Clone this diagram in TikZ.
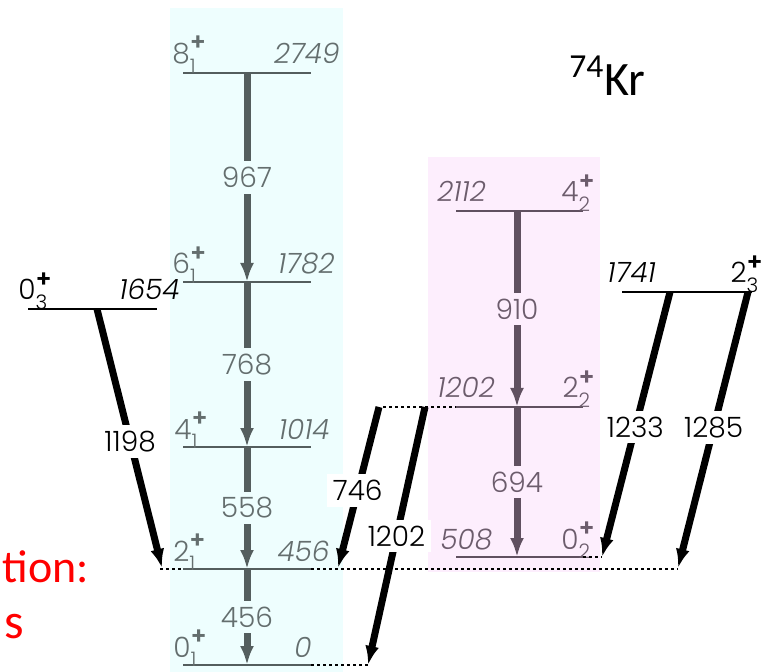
\documentclass[tikz,border=0pt]{standalone}
\usepackage{fontspec}
\setmainfont{Poppins}[UprightFont={* Light},ItalicFont={* Light Italic},BoldFont={* SemiBold}]
\newfontfamily\calibri{Carlito}
\usetikzlibrary{arrows.meta}
\definecolor{cyanbg}{RGB}{238,254,254}
\definecolor{pinkbg}{RGB}{253,238,253}
\definecolor{yrastgray}{RGB}{84,94,94}
\definecolor{yrasttext}{RGB}{100,110,110}
\definecolor{bandpurple}{RGB}{96,80,96}
\definecolor{bandtext}{RGB}{108,92,108}
\newcommand{\spinlab}[2]{#1\rlap{\raisebox{0.85ex}{\fontsize{12}{12}\selectfont\bfseries +}}\rlap{\raisebox{-0.6ex}{\fontsize{10}{11}\selectfont #2}}\kern7.5pt}

\begin{document}
\begin{tikzpicture}[x=0.5pt,y=-0.5pt]
  \tikzstyle{lvl}=[inner sep=0pt,font=\fontsize{14}{16}\selectfont]
  \tikzstyle{en}=[inner sep=0pt,font=\fontsize{14}{16}\selectfont\itshape]
  \tikzstyle{line}=[line width=1pt]
  \tikzstyle{tran}=[line width=3.5pt,-{Latex[length=9.5pt,width=7pt]}]
  \tikzstyle{gam}=[inner sep=3pt,font=\fontsize{14}{16}\selectfont]
  \tikzstyle{dots}=[dash pattern=on 1.6pt off 1.4pt,line width=1pt]
  \useasboundingbox (0,0) rectangle (763,672);
  % bands
  \fill[cyanbg] (170,8) rectangle (343,672);
  \fill[pinkbg] (428,157) rectangle (600,572);
  % ground band levels
  \coordinate (g8l) at (183,73);  \coordinate (g8r) at (311,73);
  \coordinate (g6l) at (183,282); \coordinate (g6r) at (311,282);
  \coordinate (g4l) at (183,447); \coordinate (g4r) at (311,447);
  \coordinate (g2l) at (183,569); \coordinate (g2r) at (311,569);
  \coordinate (g0l) at (183,665); \coordinate (g0r) at (311,665);
  \draw[line,yrastgray] (g8l) -- (g8r);
  \draw[line,yrastgray] (g6l) -- (g6r);
  \draw[line,yrastgray] (g4l) -- (g4r);
  \draw[line,yrastgray] (g2l) -- (g2r);
  \draw[line,yrastgray] (g0l) -- (g0r);
  \node[lvl,text=yrasttext,anchor=base west] (g8spin) at (172,64) {\spinlab{8}{1}};
  \node[lvl,text=yrasttext,anchor=base west] (g6spin) at (172,274) {\spinlab{6}{1}};
  \node[lvl,text=yrasttext,anchor=base west] (g4spin) at (174,439) {\spinlab{4}{1}};
  \node[lvl,text=yrasttext,anchor=base west] (g2spin) at (173,561) {\spinlab{2}{1}};
  \node[lvl,text=yrasttext,anchor=base west] (g0spin) at (173,657) {\spinlab{0}{1}};
  \node[en,text=yrasttext,anchor=base east] (g8en) at (340,64) {2749};
  \node[en,text=yrasttext,anchor=base east] (g6en) at (335,274) {1782};
  \node[en,text=yrasttext,anchor=base east] (g4en) at (330,439) {1014};
  \node[en,text=yrasttext,anchor=base east] (g2en) at (330,561) {456};
  \node[en,text=yrasttext,anchor=base east] (g0en) at (312,657) {0};
  % second band levels
  \coordinate (b4l) at (456,211); \coordinate (b4r) at (583,211);
  \coordinate (b2l) at (456,407); \coordinate (b2r) at (583,407);
  \coordinate (b0l) at (456,557); \coordinate (b0r) at (583,557);
  \draw[line,bandpurple] (b4l) -- (b4r);
  \draw[line,bandpurple] (b2l) -- (b2r);
  \draw[line,bandpurple] (b0l) -- (b0r);
  \node[en,text=bandtext,anchor=base west] (b4en) at (437,202) {2112};
  \node[en,text=bandtext,anchor=base west] (b2en) at (437,398) {1202};
  \node[en,text=bandtext,anchor=base west] (b0en) at (440,549) {508};
  \node[lvl,text=bandtext,anchor=base east] (b4spin) at (594,202) {\spinlab{4}{2}};
  \node[lvl,text=bandtext,anchor=base east] (b2spin) at (594,398) {\spinlab{2}{2}};
  \node[lvl,text=bandtext,anchor=base east] (b0spin) at (594,549) {\spinlab{0}{2}};
  % other levels
  \coordinate (z3l) at (28,309);  \coordinate (z3r) at (157,309);
  \coordinate (t3l) at (622,292); \coordinate (t3r) at (752,292);
  \draw[line] (z3l) -- (z3r);
  \draw[line] (t3l) -- (t3r);
  \node[lvl,anchor=base west] (z3spin) at (18,300) {\spinlab{0}{3}};
  \node[en,anchor=base east] (z3en) at (180,300) {1654};
  \node[en,anchor=base west] (t3en) at (607,283) {1741};
  \node[lvl,anchor=base east] (t3spin) at (762,283) {\spinlab{2}{3}};
  % dotted extensions
  \coordinate (g2far) at (160,569);
  \coordinate (g2end) at (678,569);
  \coordinate (g0end) at (368,665);
  \coordinate (b2far) at (383,407);
  \coordinate (b0end) at (602,557);
  \draw[dots] (g2far) -- (g2l);
  \draw[dots] (g2r) -- (g2end);
  \draw[dots] (g0r) -- (g0end);
  \draw[dots] (b2far) -- (b2l);
  \draw[dots] (b0r) -- (b0end);
  % in-band transitions
  \draw[tran,yrastgray] (247,73) -- (247,282) node[gam,midway,fill=cyanbg,text=yrasttext] (e967) {967};
  \draw[tran,yrastgray] (247,282) -- (247,447) node[gam,midway,fill=cyanbg,text=yrasttext] (e768) {768};
  \draw[tran,yrastgray] (247,447) -- (247,569) node[gam,midway,fill=cyanbg,text=yrasttext] (e558) {558};
  \draw[tran,yrastgray] (247,569) -- (247,665) node[gam,midway,fill=cyanbg,text=yrasttext] (e456) {456};
  \draw[tran,bandpurple] (517,211) -- (517,407) node[gam,midway,fill=pinkbg,text=bandtext] (e910) {910};
  \draw[tran,bandpurple] (517,407) -- (517,557) node[gam,midway,fill=pinkbg,text=bandtext] (e694) {694};
  % interband transitions
  \draw[tran] (97,309) -- (162,568) node[gam,pos=0.51,fill=white] (e1198) {1198};
  \draw[tran] (379,407) -- (338,568) node[gam,pos=0.52,fill=white] (e746) {746};
  \draw[tran] (425,407) -- (368,665) node[gam,pos=0.5,fill=white] (e1202) {1202};
  \draw[tran] (670,292) -- (602,557) node[gam,pos=0.51,fill=white] (e1233) {1233};
  \draw[tran] (748,292) -- (678,568) node[gam,pos=0.49,fill=white] (e1285) {1285};
  % headers
  \node[inner sep=0pt,anchor=base west,font=\calibri\fontsize{24}{28}\selectfont] (kr) at (569,96) {\textsuperscript{74}Kr};
  \node[inner sep=0pt,anchor=base west,text=red,font=\calibri\fontsize{23}{28}\selectfont] (tion) at (2,582) {tion:};
  \node[inner sep=0pt,anchor=base west,text=red,font=\calibri\fontsize{25}{28}\selectfont] (ess) at (4,638) {s};
\end{tikzpicture}
\end{document}
